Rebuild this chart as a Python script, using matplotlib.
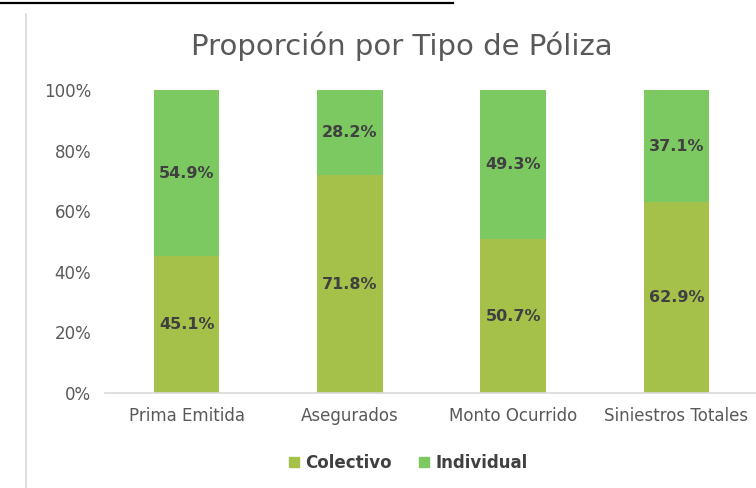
import numpy as np
import matplotlib.pyplot as plt
from matplotlib.lines import Line2D
from matplotlib.patches import Patch

categories = ['Prima Emitida', 'Asegurados', 'Monto Ocurrido', 'Siniestros Totales']
colectivo = [45.1, 71.8, 50.7, 62.9]
individual = [54.9, 28.2, 49.3, 37.1]
y_ticks = [0, 20, 40, 60, 80, 100]

COL_COLOR = '#A6C14A'
IND_COLOR = '#7CC962'
TEXT_GRAY = '#595959'
LABEL_DARK = '#404040'

fig = plt.figure(figsize=(7.56, 4.88), dpi=100)
ax = fig.add_axes([105 / 756, 95 / 488, 653 / 756, 303 / 488])

x = np.arange(len(categories))
width = 0.40
ax.bar(x, colectivo, width, color=COL_COLOR, label='Colectivo')
ax.bar(x, individual, width, bottom=colectivo, color=IND_COLOR, label='Individual')

# etiquetas de datos en el centro de cada segmento
for i in range(len(categories)):
    ax.text(x[i], colectivo[i] / 2, f'{colectivo[i]:.1f}%', ha='center', va='center',
            fontsize=11.5, fontweight='bold', color=LABEL_DARK)
    ax.text(x[i], colectivo[i] + individual[i] / 2, f'{individual[i]:.1f}%', ha='center',
            va='center', fontsize=11.5, fontweight='bold', color=LABEL_DARK)

ax.set_xlim(-0.5, 3.5)
ax.set_ylim(0, 100)
ax.set_yticks(y_ticks)
ax.set_yticklabels([f'{t}%' for t in y_ticks], fontsize=12)
ax.set_xticks(x)
ax.set_xticklabels(categories, fontsize=12)
ax.tick_params(axis='both', length=0, labelcolor=TEXT_GRAY)
ax.tick_params(axis='y', pad=10)
ax.tick_params(axis='x', pad=10)

for side in ['top', 'right', 'left']:
    ax.spines[side].set_visible(False)
ax.spines['bottom'].set_color('#D9D9D9')
ax.spines['bottom'].set_linewidth(1.2)

fig.text(402 / 756, 1 - 46 / 488, 'Proporción por Tipo de Póliza', ha='center', va='center',
         fontsize=21, color=TEXT_GRAY)

handles = [Patch(color=COL_COLOR), Patch(color=IND_COLOR)]
fig.legend(handles, ['Colectivo', 'Individual'], loc='center', ncol=2,
           bbox_to_anchor=(408 / 756, 1 - 463 / 488), frameon=False,
           handlelength=0.6, handleheight=0.6, handletextpad=0.4, columnspacing=1.6,
           prop={'size': 12, 'weight': 'bold'}, labelcolor=LABEL_DARK)

# líneas del recorte original
fig.add_artist(Line2D([0, 453 / 756], [1 - 3 / 488, 1 - 3 / 488], color='black', lw=1.6))
fig.add_artist(Line2D([26 / 756, 26 / 756], [0, 1 - 14 / 488], color='#D9D9D9', lw=1.2))

fig.savefig('out.png', dpi=100)
